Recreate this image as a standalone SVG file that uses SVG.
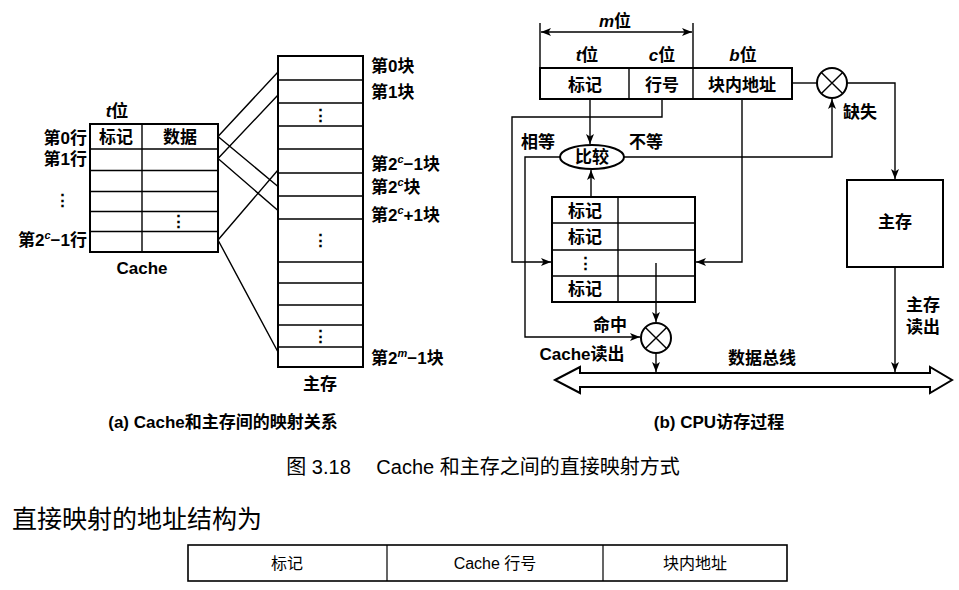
<svg xmlns="http://www.w3.org/2000/svg" width="959" height="590" viewBox="0 0 959 590">
<defs>
<style>
.box{fill:#fff;stroke:#000;stroke-width:2}
.ln{fill:none;stroke:#000;stroke-width:1.4}
.t{font-family:"Liberation Sans","Noto Sans CJK SC",sans-serif;font-size:17px;font-weight:bold;fill:#000}
.c{text-anchor:middle}
.r{text-anchor:end}
.cap{font-family:"Liberation Sans","Noto Sans CJK SC",sans-serif;fill:#000}
</style>
<marker id="ah" viewBox="0 0 10 8" refX="10" refY="4" markerWidth="10" markerHeight="8" markerUnits="userSpaceOnUse" orient="auto-start-reverse">
<path d="M0,0 L10,4 L0,8 L2.5,4 z" fill="#000"/>
</marker>
</defs>
<rect width="959" height="590" fill="#fff"/>

<!-- (a) Cache -->
<g id="cache-a">
<rect class="box" x="90" y="124" width="128" height="128"/>
<line class="ln" x1="142" y1="124" x2="142" y2="252" stroke-width="2"/>
<path class="ln" stroke-width="2" d="M90,149H218M90,170.5H218M90,191.5H218M90,211.5H218M90,231.5H218"/>
<text class="t c" x="116" y="143">标记</text>
<text class="t c" x="180" y="143">数据</text>
<text class="t c" x="178" y="227" font-size="15">⋮</text>
<text class="t c" x="117" y="117"><tspan font-style="italic">t</tspan>位</text>
<text class="t r" x="87" y="144">第0行</text>
<text class="t r" x="87" y="165">第1行</text>
<text class="t c" x="62" y="206">⋮</text>
<text class="t r" x="87" y="246">第2<tspan font-size="11" dy="-7" font-style="italic">c</tspan><tspan dy="7">−1行</tspan></text>
<text class="t c" x="142" y="274">Cache</text>
</g>

<!-- (a) Main memory -->
<g id="mem-a">
<rect class="box" x="278" y="56" width="85" height="311"/>
<path class="ln" stroke-width="2" d="M278,80H363M278,103H363M278,126H363M278,149H363M278,173H363M278,196H363M278,219H363M278,262H363M278,283H363M278,305H363M278,325H363M278,347H363"/>
<text class="t c" x="320" y="121" font-size="15">⋮</text>
<text class="t c" x="320" y="246" font-size="15">⋮</text>
<text class="t c" x="320" y="342" font-size="15">⋮</text>
<text class="t" x="371" y="72">第0块</text>
<text class="t" x="371" y="98">第1块</text>
<text class="t" x="371" y="170">第2<tspan font-size="11" dy="-7" font-style="italic">c</tspan><tspan dy="7">−1块</tspan></text>
<text class="t" x="371" y="193">第2<tspan font-size="11" dy="-7" font-style="italic">c</tspan><tspan dy="7">块</tspan></text>
<text class="t" x="371" y="221">第2<tspan font-size="11" dy="-7" font-style="italic">c</tspan><tspan dy="7">+1块</tspan></text>
<text class="t" x="371" y="364">第2<tspan font-size="11" dy="-7" font-style="italic">m</tspan><tspan dy="7">−1块</tspan></text>
<text class="t c" x="320" y="390">主存</text>
</g>

<g id="connectors-a">
<path class="ln" d="M218,136.5L278,72M218,136.5L278,186.5M218,158.5L278,95M218,158.5L278,210.5M218,240L278,170M218,240L278,352"/>
</g>

<!-- (b) Address register -->
<g id="addr">
<rect class="box" x="540" y="68" width="252" height="31"/>
<path class="ln" stroke-width="2" d="M629,68V99M693,68V99"/>
<text class="t c" x="585" y="91">标记</text>
<text class="t c" x="662" y="91">行号</text>
<text class="t c" x="742" y="91">块内地址</text>
<text class="t c" x="587" y="61"><tspan font-style="italic">t</tspan>位</text>
<text class="t c" x="662" y="61"><tspan font-style="italic">c</tspan>位</text>
<text class="t c" x="743" y="61"><tspan font-style="italic">b</tspan>位</text>
<text class="t c" x="615" y="27"><tspan font-style="italic">m</tspan>位</text>
</g>
<g id="dim">
<path class="ln" d="M540,23V68M693,23V68"/>
<line class="ln" x1="541" y1="32" x2="692" y2="32" marker-start="url(#ah)" marker-end="url(#ah)"/>
</g>

<g id="compare">
<ellipse cx="592" cy="157" rx="32" ry="12" fill="#fff" stroke="#000" stroke-width="2"/>
<text class="t c" x="592" y="163">比较</text>
</g>

<g id="cache-b">
<rect class="box" x="552" y="197" width="143" height="105"/>
<path class="ln" stroke-width="2" d="M618,197V302M552,223H695M552,250H695M552,276H695"/>
<text class="t c" x="585" y="217">标记</text>
<text class="t c" x="585" y="243">标记</text>
<text class="t c" x="585" y="269" font-size="15">⋮</text>
<text class="t c" x="585" y="295">标记</text>
</g>

<g id="gate-miss">
<circle cx="832" cy="83" r="15" fill="#fff" stroke="#000" stroke-width="2"/>
<path class="ln" stroke-width="2" d="M821.4,72.4L842.6,93.6M842.6,72.4L821.4,93.6"/>
</g>
<g id="gate-hit">
<circle cx="656" cy="338" r="15" fill="#fff" stroke="#000" stroke-width="2"/>
<path class="ln" stroke-width="2" d="M645.4,327.4L666.6,348.6M666.6,327.4L645.4,348.6"/>
</g>

<g id="mem-b">
<rect class="box" x="847" y="180" width="96" height="87"/>
<text class="t c" x="895" y="228">主存</text>
</g>

<g id="bus">
<path d="M555,380L580,367V373H930V367L952,380L930,393V387H580V393Z" fill="#fff" stroke="#000" stroke-width="2"/>
</g>

<g id="connectors-b">
<line class="ln" x1="590" y1="99" x2="590" y2="144" marker-end="url(#ah)"/>
<path class="ln" d="M662,99V117H512V262H551" marker-end="url(#ah)"/>
<path class="ln" d="M560,157H525V337H640" marker-end="url(#ah)"/>
<path class="ln" d="M624,157H832V99" marker-end="url(#ah)"/>
<line class="ln" x1="792" y1="83" x2="817" y2="83"/>
<path class="ln" d="M847,83H895V179" marker-end="url(#ah)"/>
<line class="ln" x1="895" y1="267" x2="895" y2="372" marker-end="url(#ah)"/>
<path class="ln" d="M742,99V262H696" marker-end="url(#ah)"/>
<line class="ln" x1="591" y1="197" x2="591" y2="170" marker-end="url(#ah)"/>
<line class="ln" x1="656" y1="263" x2="656" y2="322" marker-end="url(#ah)"/>
<line class="ln" x1="656" y1="353" x2="656" y2="372" marker-end="url(#ah)"/>
</g>

<g id="labels-b">
<text class="t c" x="538" y="148">相等</text>
<text class="t c" x="646" y="148">不等</text>
<text class="t c" x="860" y="118">缺失</text>
<text class="t c" x="610" y="331">命中</text>
<text class="t c" x="582" y="360">Cache读出</text>
<text class="t c" x="762" y="364">数据总线</text>
<text class="t c" x="923" y="311">主存</text>
<text class="t c" x="923" y="333">读出</text>
</g>

<g id="captions">
<text class="cap c" x="223" y="428" font-size="17" font-weight="bold">(a) Cache和主存间的映射关系</text>
<text class="cap c" x="719" y="428" font-size="17" font-weight="bold">(b) CPU访存过程</text>
<text class="cap c" x="483" y="474" font-size="20">图 3.18　 Cache 和主存之间的直接映射方式</text>
<text class="cap" x="12" y="528" font-size="25">直接映射的地址结构为</text>
</g>

<g id="addr-struct">
<rect x="188" y="545" width="599" height="36" fill="#fff" stroke="#000" stroke-width="1.6"/>
<path d="M387,545V581M603,545V581" stroke="#000" stroke-width="1.2"/>
<text class="cap c" x="287" y="569" font-size="16">标记</text>
<text class="cap c" x="495" y="569" font-size="16">Cache 行号</text>
<text class="cap c" x="695" y="569" font-size="16">块内地址</text>
</g>
</svg>
